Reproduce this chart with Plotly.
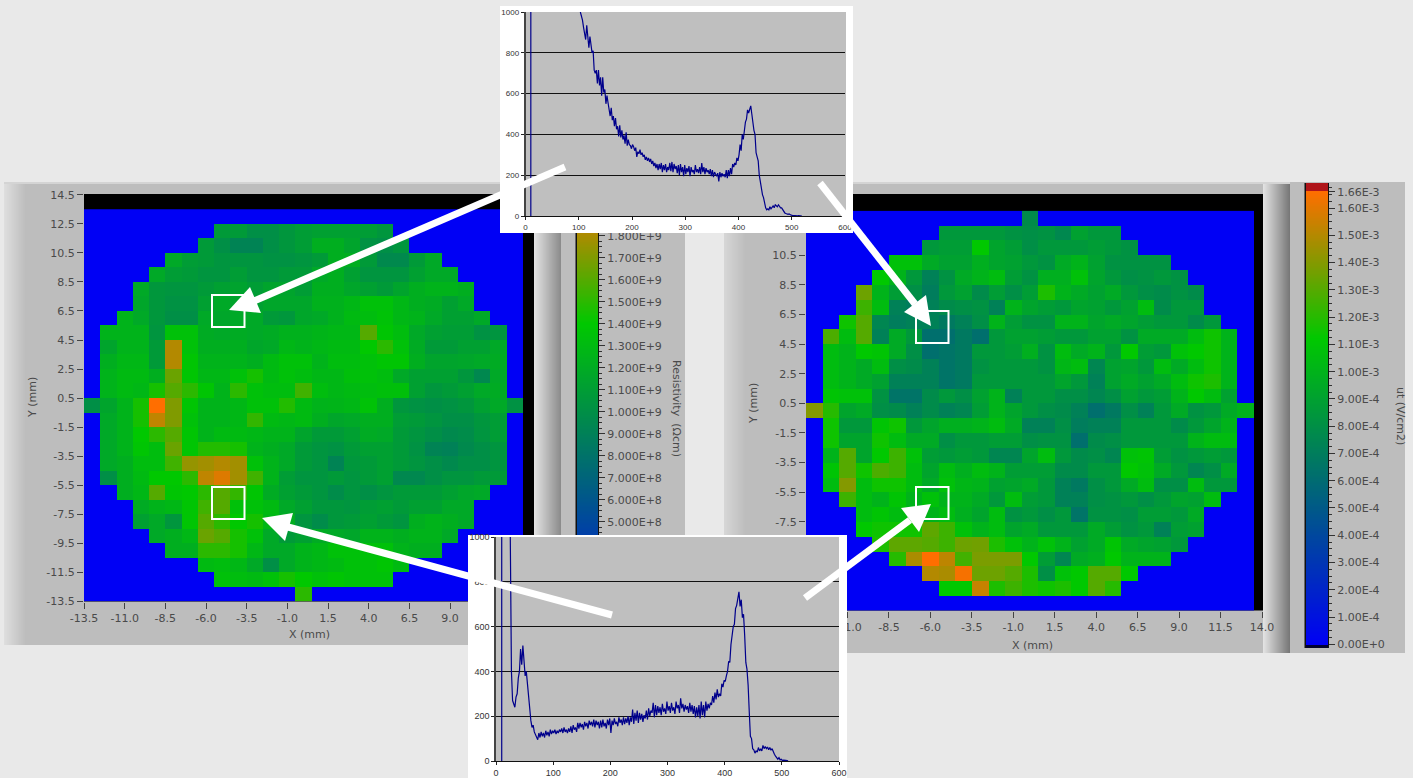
import plotly.graph_objects as go

W, H = 1413, 778

# ---------- resistivity map, rows top to bottom, units 1E+7 ohm cm (centred in a 27 wide grid) ----------
left_rows = [
 [],
 [108,108,100,100,105,110,112,112,112,110,105],
 [108,100,92,92,100,105,110,122,122,115,102,100,105],
 [118,110,108,104,104,104,102,102,104,108,122,122,108,96,96,108,118],
 [118,110,108,104,104,110,104,104,108,108,118,122,112,104,104,104,112,118,118],
 [118,106,104,104,108,112,114,110,115,115,110,122,122,116,112,108,115,122,125,125,122],
 [116,106,102,102,112,118,115,112,116,116,116,124,124,128,135,135,128,122,120,112,118],
 [125,118,106,100,100,118,116,118,118,108,106,116,118,124,130,132,136,128,125,118,112,112,118],
 [125,125,125,104,135,135,120,118,120,118,120,124,124,126,128,128,160,138,132,118,112,110,110,102,104],
 [115,125,125,108,182,135,122,122,122,116,118,128,125,128,130,130,140,150,135,120,108,108,112,112,118],
 [122,128,128,108,182,138,125,125,125,122,130,135,135,125,132,132,135,138,138,122,115,115,116,118,120],
 [125,130,130,122,165,138,128,128,135,145,130,135,132,128,128,134,135,132,118,112,112,112,105,95,118],
 [125,130,128,145,160,150,138,125,150,135,132,132,155,132,128,130,132,134,134,112,105,108,112,118,120],
 [100,115,125,145,200,170,138,125,125,128,135,135,148,130,125,126,128,136,122,105,102,100,102,105,112,118,102],
 [118,125,145,185,170,135,125,125,128,152,130,128,130,122,116,118,122,122,110,108,104,100,100,105,110],
 [118,125,140,150,160,138,125,130,130,128,125,125,115,108,108,112,120,118,108,104,100,96,98,104,110],
 [118,125,138,132,165,138,148,148,145,125,122,118,108,104,102,108,112,112,108,102,92,90,96,100,104],
 [118,122,132,132,155,175,178,182,178,135,125,118,108,104,92,106,108,112,108,104,100,96,100,100,104],
 [100,122,130,140,140,150,185,192,178,155,125,110,104,104,108,104,108,112,95,95,100,104,104,108,108],
 [122,128,160,138,140,150,160,152,138,120,112,108,104,98,104,100,104,108,108,108,112,116,118],
 [120,125,128,138,155,160,135,135,130,118,112,106,106,104,110,112,108,112,112,118,118],
 [112,118,105,138,160,150,140,145,128,122,104,98,106,108,112,108,104,122,125,122,118],
 [118,122,128,165,160,145,135,118,108,112,120,118,116,125,125,122,125,125,118],
 [122,122,150,150,145,128,118,118,125,128,135,135,135,135,125,122,122],
 [130,132,128,118,100,118,125,128,130,135,135,138,130],
 [135,132,130,135,145,140,135,138,135,135,135],
 [150],
]

# ---------- Jt map, rows top to bottom, units 1E-5 V/cm2 ----------
right_rows = [
 [78],
 [85,85,85,85,82,80,82,76,90,85,85],
 [85,88,88,112,92,88,80,85,85,85,88,85,82],
 [108,108,95,90,90,98,92,90,85,82,95,100,90,82,82,82,82],
 [112,100,85,72,82,95,100,105,88,82,98,98,108,92,85,80,82,85,82],
 [135,100,88,80,70,85,90,78,88,80,88,118,100,95,90,95,85,80,78,82,78],
 [125,105,72,70,72,78,80,82,72,100,92,88,85,92,90,85,90,105,78,85,85],
 [115,130,75,70,72,72,68,72,80,100,88,82,82,100,100,92,95,92,88,85,85,78,85],
 [128,105,130,72,95,85,62,62,68,62,85,90,90,88,85,85,90,90,82,95,95,95,105,115,100],
 [105,100,112,110,95,80,62,65,68,85,85,88,98,82,105,95,100,85,112,88,85,108,112,115,100],
 [105,100,95,105,80,78,72,65,68,82,85,85,85,82,102,105,75,90,92,85,105,95,105,115,100],
 [105,100,95,90,72,72,72,65,68,85,85,85,85,85,92,85,72,90,95,90,95,105,115,118,100],
 [110,108,108,82,65,65,78,85,80,90,100,72,85,85,80,80,75,80,90,85,88,100,112,105,90],
 [140,120,92,95,80,78,72,78,72,75,88,100,92,85,80,78,72,62,68,80,72,85,95,82,85,95,100],
 [115,85,85,110,115,85,92,98,98,100,105,95,72,72,80,70,72,72,85,85,85,78,85,92,100],
 [115,92,92,115,105,95,95,80,85,85,88,88,80,82,82,62,78,80,85,85,85,85,100,105,105],
 [100,130,92,112,125,108,88,85,88,85,75,75,92,105,85,78,80,75,108,110,88,82,85,88,85],
 [110,130,115,128,125,105,92,105,98,105,100,88,88,88,78,78,85,85,112,108,95,85,75,80,95],
 [105,140,105,115,115,105,95,108,102,100,90,92,95,85,72,68,80,85,95,105,80,80,105,85,85],
 [125,105,100,110,100,108,100,100,95,85,105,88,85,72,72,80,82,85,80,85,92,90,105],
 [105,110,105,105,100,105,98,92,105,82,85,80,85,65,82,82,80,88,88,85,95],
 [112,115,115,115,132,125,108,100,105,92,95,85,85,85,95,88,82,85,72,88,90],
 [118,132,132,130,125,135,136,118,108,100,108,100,90,95,110,95,92,90,85],
 [120,148,166,152,126,138,138,138,112,88,75,95,98,112,100,100,100],
 [150,148,164,135,135,130,118,80,108,112,130,130,112],
 [112,112,154,118,125,118,115,118,112,130,120],
 [],
]

# ---------- spectra ----------
spike_x = [10, 10]
spike_y = [0, 1000]
top_x0, top_dx = 103, 2
top_y = [1000,985,960,925,880,865,935,870,825,880,
 820,800,810,715,700,715,650,715,640,680,
 590,680,605,620,550,590,555,510,490,530,
 470,490,440,480,425,440,390,445,385,420,
 375,395,355,410,345,375,350,345,330,350,
 340,320,335,290,315,305,325,300,310,290,
 300,275,290,270,285,265,280,255,270,245,
 260,235,255,225,255,230,260,215,250,225,
 255,215,240,225,260,220,265,215,255,230,
 245,210,250,200,255,215,240,195,250,205,
 235,215,245,195,240,215,225,205,250,215,
 230,210,240,205,260,215,240,205,235,215,
 225,205,230,195,225,190,215,205,195,210,
 170,215,190,210,195,205,190,225,185,225,
 195,235,205,255,240,260,250,285,270,300,
 350,320,400,375,440,460,475,520,505,530,
 540,500,455,420,400,310,290,270,200,160,
 120,105,90,55,40,30,35,30,45,35,
 45,50,40,55,50,45,55,45,40,40,
 30,22,15,12,10,8,10,5,4,3,
 2,3,2,2,1,2,1,0,0]
bot_x0, bot_dx = 25, 2
bot_y = [1000,400,270,255,240,285,300,370,400,500,
 430,515,420,380,400,345,265,220,180,150,
 160,130,120,110,95,125,105,130,110,125,
 105,135,115,130,110,140,120,135,125,140,
 120,135,125,140,130,145,125,150,130,140,
 125,145,130,155,125,160,140,150,130,170,
 145,170,150,165,140,175,155,170,145,180,
 160,175,155,185,150,180,160,175,145,180,
 150,185,155,170,145,185,160,190,125,180,
 160,190,165,175,155,195,170,185,160,195,
 165,190,170,200,160,195,175,230,165,215,
 180,225,170,215,185,210,175,205,190,225,
 185,235,200,225,215,260,195,250,205,245,
 215,240,205,255,220,235,210,265,225,245,
 215,260,225,240,210,265,235,250,215,280,
 235,255,220,250,230,245,215,260,220,250,
 210,245,195,240,200,250,190,265,205,250,
 195,265,225,255,235,260,250,290,260,305,
 275,320,285,300,290,345,330,360,355,380,
 400,445,440,520,560,600,610,680,695,720,
 755,690,720,640,655,560,440,410,340,220,
 110,100,55,50,35,45,40,60,45,55,
 45,70,55,65,55,62,50,60,48,55,
 40,30,22,12,8,15,5,8,3,4,
 2,3,2,1]

# only the tick labels that are not covered by the inset plots
left_x_ticks = [-13.5,-11.0,-8.5,-6.0,-3.5,-1.0,1.5,4.0,6.5,9.0]
right_x_ticks = [-11.0,-8.5,-6.0,-3.5,-1.0,1.5,4.0,6.5,9.0,11.5,14.0]
left_y_ticks = [-13.5,-11.5,-9.5,-7.5,-5.5,-3.5,-1.5,0.5,2.5,4.5,6.5,8.5,10.5,12.5,14.5]
right_y_ticks = [-7.5,-5.5,-3.5,-1.5,0.5,2.5,4.5,6.5,8.5,10.5]
left_bar_vals = [180,170,160,150,140,130,120,110,100,90,80,70,60,50]
left_bar_text = ["1.800E+9","1.700E+9","1.600E+9","1.500E+9","1.400E+9","1.300E+9","1.200E+9","1.100E+9",
                 "1.000E+9","9.000E+8","8.000E+8","7.000E+8","6.000E+8","5.000E+8"]
right_bar_vals = [166,160,150,140,130,120,110,100,90,80,70,60,50,40,30,20,10,0]
right_bar_text = ["1.66E-3","1.60E-3","1.50E-3","1.40E-3","1.30E-3","1.20E-3","1.10E-3","1.00E-3","9.00E-4",
                  "8.00E-4","7.00E-4","6.00E-4","5.00E-4","4.00E-4","3.00E-4","2.00E-4","1.00E-4","0.00E+0"]

FONT = "DejaVu Sans"
TXT = "#4a4a4a"
PAGE = "#e9e9e9"
PANEL = "#bdbdbd"
BLUE = "rgb(0,0,245)"


def fx(x):
    return x / W


def fy(y):
    return 1 - y / H


def full(rows):
    out = []
    for r in rows:
        if len(r) and len(r) % 2 == 0:
            raise ValueError(f"even row {len(r)}")
        pad = (27 - len(r)) // 2
        out.append([0] * pad + r + [0] * (27 - pad - len(r)))
    return out


def scale(vmax, vgreen, vlow, vhigh):
    def p(v):
        return (v - vlow) / (vhigh - vlow)
    return [[0, "rgb(0,0,50)"], [p(-0.01), "rgb(0,0,50)"], [p(0), BLUE], [p(vgreen), "rgb(0,200,0)"],
            [p(vmax), "rgb(255,110,0)"], [p(vmax * 1.001), "rgb(175,20,25)"], [1, "rgb(175,20,25)"]]


fig = go.Figure()
layout = dict(
    width=W, height=H, margin=dict(l=0, r=0, t=0, b=0), autosize=False, showlegend=False,
    paper_bgcolor=PAGE, plot_bgcolor="rgba(0,0,0,0)", font=dict(family=FONT, size=11, color=TXT),
)
shapes = []
annots = []


def panel(x0, y0, x1, y1, color):
    shapes.append(dict(type="rect", xref="paper", yref="paper", x0=fx(x0), x1=fx(x1), y0=fy(y1), y1=fy(y0),
                       fillcolor=color, line_width=0, layer="below"))


def grad(x0, x1, y0, y1, g0, g1):
    for i in range(x0, x1):
        g = round(g0 + (g1 - g0) * (i - x0) / max(1, x1 - x0 - 1))
        panel(i, y0, i + 1, y1, f"rgb({g},{g},{g})")


# static panels
panel(4, 182, 560, 645, PANEL)
panel(4, 182, 560, 184, "#d4d4d4")
grad(4, 26, 184, 645, 222, 189)
grad(534, 561, 184, 645, 226, 140)
panel(561, 182, 685, 645, PANEL)
panel(724, 182, 1291, 653, PANEL)
panel(724, 182, 1291, 184, "#d4d4d4")
grad(724, 746, 184, 653, 214, 189)
grad(1263, 1290, 184, 653, 226, 120)
panel(1290, 182, 1405, 653, PANEL)
panel(575.5, 183, 599, 640, "#101010")
panel(1304.5, 183, 1329, 648, "#101010")
panel(84, 194, 534, 601.5, "black")
panel(806, 194, 1263, 610.5, "black")


def axis(kind, n, px0, px1, **kw):
    name = f"{kind}axis{'' if n == 1 else n}"
    d = dict(anchor=("y" if kind == "x" else "x") + ("" if n == 1 else str(n)), showgrid=False, zeroline=False,
             automargin=False)
    d["domain"] = [fx(px0), fx(px1)] if kind == "x" else [fy(px1), fy(px0)]
    d.update(kw)
    layout[name] = d


def ref(n):
    return ("x", "y") if n == 1 else (f"x{n}", f"y{n}")


tick = dict(ticks="outside", ticklen=6, tickcolor="#444", tickwidth=1, showline=False,
            tickfont=dict(family=FONT, size=11, color=TXT))

# 1 left map, 2 right map
LMAX, LGREEN, LLOW, LHIGH = 200, 140, -1.5, 204
RMAX, RGREEN, RLOW, RHIGH = 166, 112, -1.25, 169.2
cs_left = scale(LMAX, LGREEN, LLOW, LHIGH)
cs_right = scale(RMAX, RGREEN, RLOW, RHIGH)

for n, rows, cs, lo, hi, bx, xt, yt in [
        (1, left_rows, cs_left, LLOW, LHIGH, (84, 534, 194, 601.5, 14.16, 14.55), left_x_ticks, left_y_ticks),
        (2, right_rows, cs_right, RLOW, RHIGH, (806, 1263, 194, 610.5, 14.06, 14.64), right_x_ticks, right_y_ticks)]:
    xr, yr = ref(n)
    fig.add_trace(go.Heatmap(z=full(rows), x0=-13, dx=1, y0=13, dy=-1, colorscale=cs, zmin=lo, zmax=hi,
                             showscale=False, hoverinfo="skip", xaxis=xr, yaxis=yr))
    axis("x", n, bx[0], bx[1], range=[-13.5, bx[4]], tickmode="array", tickvals=xt,
         ticktext=[f"{v:.1f}" for v in xt], **tick)
    axis("y", n, bx[2], bx[3], range=[-13.5, bx[5]], tickmode="array", tickvals=yt,
         ticktext=[f"{v:.1f}" for v in yt], **tick)


# 3 left colour ramp, 4 right colour ramp
def bar(n, x0, x1, y0, y1, lo, hi, cs, vals, text, minor_step):
    xr, yr = ref(n)
    steps = 400
    lev = [lo + (hi - lo) * (i + 0.5) / steps for i in range(steps)]
    fig.add_trace(go.Heatmap(z=[[v] for v in lev], x=[0], y=lev, colorscale=cs, zmin=lo, zmax=hi,
                             showscale=False, hoverinfo="skip", xaxis=xr, yaxis=yr))
    axis("x", n, x0, x1, range=[-0.5, 0.5], visible=False)
    mins = [i * minor_step for i in range(int(hi / minor_step) + 1)]
    axis("y", n, y0, y1, range=[lo, hi], side="right", tickmode="array", tickvals=vals, ticktext=text,
         ticks="outside", ticklen=6, tickcolor="#333", showline=False,
         tickfont=dict(family=FONT, size=11, color=TXT),
         minor=dict(ticks="outside", ticklen=3, tickcolor="#333", tickmode="array", tickvals=mins))


bar(3, 577, 598, 183, 635, LLOW, LHIGH, cs_left, left_bar_vals, left_bar_text, 2.5)
bar(4, 1306, 1328, 183, 647.7, RLOW, RHIGH, cs_right, right_bar_vals, right_bar_text, 2.5)


# 5/6 top inset frame + plot, 7/8 bottom inset frame + plot
def frame(n, fx0, fx1, fy0, fy1, gx0, gx1, gy0, gy1):
    xr, yr = ref(n)
    fig.add_trace(go.Heatmap(x=[fx0, gx0, gx1, fx1], y=[fy0, gy0, gy1, fy1],
                             z=[[0, 0, 0], [0, 1, 0], [0, 0, 0]],
                             colorscale=[[0, "white"], [1, "#bfbfbf"]], zmin=0, zmax=1,
                             showscale=False, hoverinfo="skip", xaxis=xr, yaxis=yr))
    axis("x", n, fx0, fx1, range=[fx0, fx1], visible=False)
    axis("y", n, fy0, fy1, range=[fy1, fy0], visible=False)


def spectrum(n, px0, px1, py0, py1, xs, ys, fs, lw):
    xr, yr = ref(n)
    fig.add_trace(go.Scatter(x=spike_x, y=spike_y, mode="lines", line=dict(color="#00008b", width=lw),
                             hoverinfo="skip", xaxis=xr, yaxis=yr, cliponaxis=True))
    fig.add_trace(go.Scatter(x=xs, y=ys, mode="lines", line=dict(color="#00008b", width=lw),
                             hoverinfo="skip", xaxis=xr, yaxis=yr))
    f = dict(family="Liberation Sans", size=fs, color="#333")
    axis("x", n, px0, px1, range=[0, 600], tickmode="array", tickvals=[0, 100, 200, 300, 400, 500, 600],
         ticks="outside", ticklen=3, tickcolor="#222", showline=True, linecolor="#111", linewidth=1, tickfont=f)
    axis("y", n, py0, py1, range=[0, 1000], tickmode="array", tickvals=[0, 200, 400, 600, 800, 1000],
         ticks="outside", ticklen=3, tickcolor="#222", showline=True, linecolor="#444", linewidth=1.5, tickfont=f,
         showgrid=True, gridcolor="#111", gridwidth=1)


frame(5, 500, 853, 6, 233, 525, 846, 12, 216)
spectrum(6, 525.5, 845, 12, 216, [top_x0 + top_dx * i for i in range(len(top_y))], top_y, 8, 1.2)
frame(7, 468, 847, 535, 778, 496, 839, 537, 761)
spectrum(8, 496, 839, 537, 761, [bot_x0 + bot_dx * i for i in range(len(bot_y))], bot_y, 9, 1.2)


def label(x, y, text, angle=0, size=11):
    annots.append(dict(x=fx(x), y=fy(y), xref="paper", yref="paper", text=text, showarrow=False, textangle=angle,
                       font=dict(family=FONT, size=size, color=TXT), xanchor="center", yanchor="middle"))


label(309, 634, "X (mm)")
label(1032, 645, "X (mm)")
label(33, 398, "Y (mm)", -90)
label(754, 403, "Y (mm)", -90)
label(677, 408, "Resistivity  (Ωcm)", 90)
label(1400, 416, "ut (V/cm2)", 90)


# white overlays
def path(pts):
    return "M " + " L ".join(f"{fx(a):.5f},{fy(b):.5f}" for a, b in pts) + " Z"


def arrow(start, neck, tip, c1, c2):
    shapes.append(dict(type="line", xref="paper", yref="paper", x0=fx(start[0]), y0=fy(start[1]),
                       x1=fx(neck[0]), y1=fy(neck[1]), line=dict(color="white", width=7), layer="above"))
    shapes.append(dict(type="path", xref="paper", yref="paper", path=path([tip, c1, c2]),
                       fillcolor="white", line_width=0, layer="above"))


def square(x0, y0, x1, y1):
    shapes.append(dict(type="rect", xref="paper", yref="paper", x0=fx(x0), x1=fx(x1), y0=fy(y1), y1=fy(y0),
                       line=dict(color="white", width=2), fillcolor="rgba(0,0,0,0)", layer="above"))


square(212, 295, 244.5, 327)
square(212, 487, 244.5, 519)
square(916, 311, 948.5, 343)
square(916, 487, 948.5, 519)
arrow((565, 167), (254, 301), (229, 310), (250, 287), (261, 313))
arrow((612, 615), (288, 527), (262, 518), (293, 513), (285, 541))
arrow((820, 183), (915, 304), (931, 326), (904, 312), (926, 295))
arrow((805, 598), (910, 520), (931, 504), (901, 508), (919, 532))

layout["shapes"] = shapes
layout["annotations"] = annots
fig.update_layout(**layout)
fig.write_html("out.html", config={"displayModeBar": False}, post_script=(
    "document.body.style.margin='0';document.body.style.overflow='hidden';"
    "document.body.style.background='#e9e9e9';"))
